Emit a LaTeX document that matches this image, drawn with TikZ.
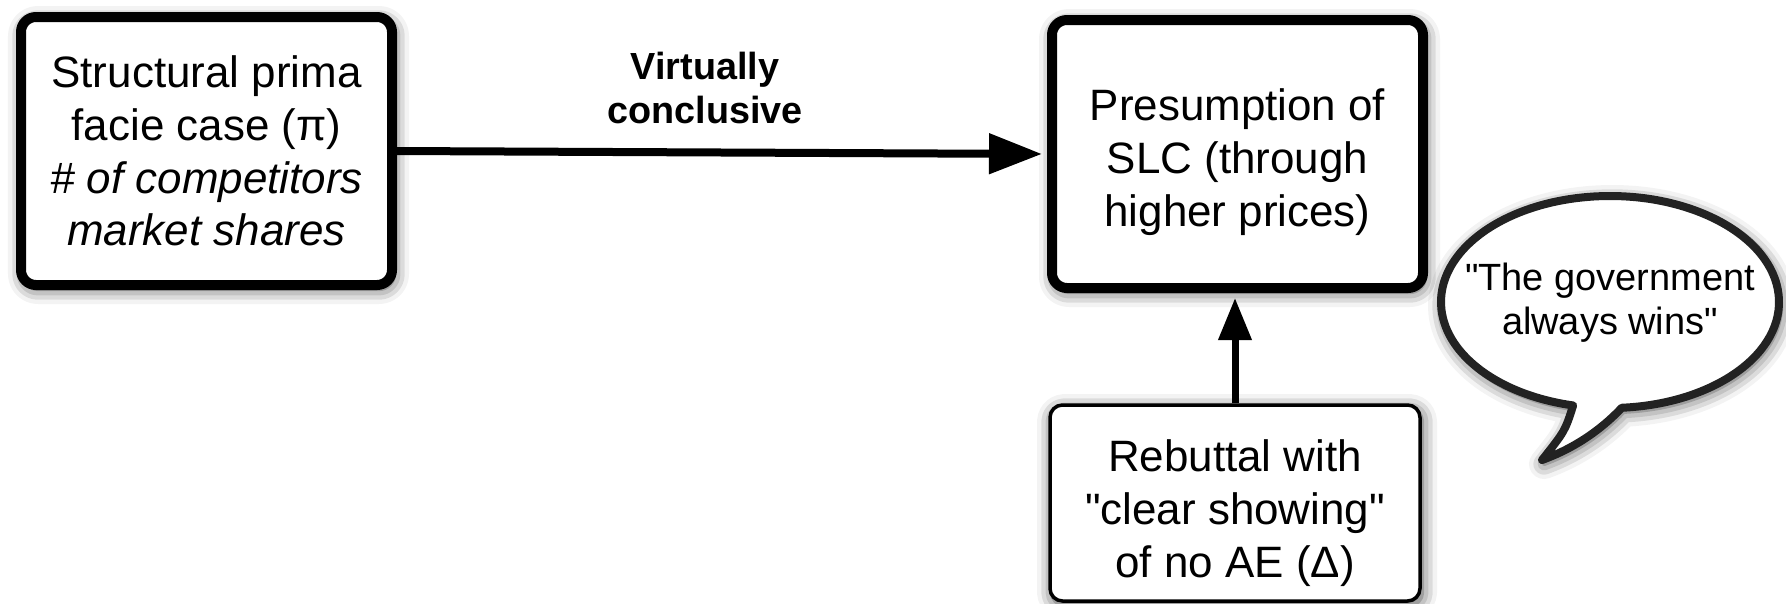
\documentclass[tikz,border=0pt]{standalone}
\usepackage{fontspec}
\setmainfont{Liberation Sans}
\usetikzlibrary{arrows.meta,shadows.blur}

\definecolor{bubblegrey}{HTML}{222222}

\tikzset{
  softshadow/.style={blur shadow={shadow xshift=0.04cm, shadow yshift=-0.08cm, shadow blur radius=0.3cm, shadow opacity=75}},
  box/.style={draw, line width=0.2cm, rounded corners=0.3cm, fill=white, align=center,
    minimum width=7.42cm, minimum height=5.36cm, inner sep=0pt,
    font=\fontsize{25}{30}\selectfont, softshadow},
  thinbox/.style={box, line width=0.07cm, rounded corners=0.25cm, minimum width=7.4cm, minimum height=3.92cm},
  bigarrow/.style={-{Triangle[length=1.06cm,width=0.78cm]}, line width=0.16cm, shorten >=0.1cm},
  uparrow/.style={-{Triangle[length=0.84cm,width=0.64cm]}, line width=0.14cm, shorten >=0.1cm},
  bubble/.style={draw=bubblegrey, line width=0.16cm, fill=white, line join=round, softshadow},
}

\begin{document}
\begin{tikzpicture}
\useasboundingbox (0,0) rectangle (35.72,-12.06);

\node[box] (prima) at (4.13,-3.02) {Structural prima\\facie case (π)\\\textit{\# of competitors}\\\textit{market shares}};
\node[box] (slc) at (24.75,-3.08) {\rule{0pt}{0.96cm}Presumption of\\SLC (through\\higher prices)};
\node[thinbox] (rebut) at (24.70,-10.06) {\rule{0pt}{1.05cm}Rebuttal with\\\textquotedbl clear showing\textquotedbl\\of no AE (Δ)};

\draw[bigarrow] (prima.east) -- (slc.west);
\node[font=\bfseries\fontsize{21.5}{24.5}\selectfont, align=center] (conclusive) at (14.10,-1.76) {Virtually\\conclusive};
\draw[uparrow] (rebut.north) -- (rebut.north |- slc.south);

% speech bubble
\draw[bubble] (32.436,-8.155) arc[start angle=274, end angle=617.4, x radius=3.38cm, y radius=2.12cm]
  .. controls (31.30,-8.62) .. (30.84,-9.20)
  .. controls (31.45,-8.98) and (32.00,-8.62) .. cycle;
\node[font=\fontsize{21.6}{25}\selectfont, align=center] (quote) at (32.20,-6.06) {\textquotedbl The government\\always wins\textquotedbl};
\end{tikzpicture}
\end{document}
